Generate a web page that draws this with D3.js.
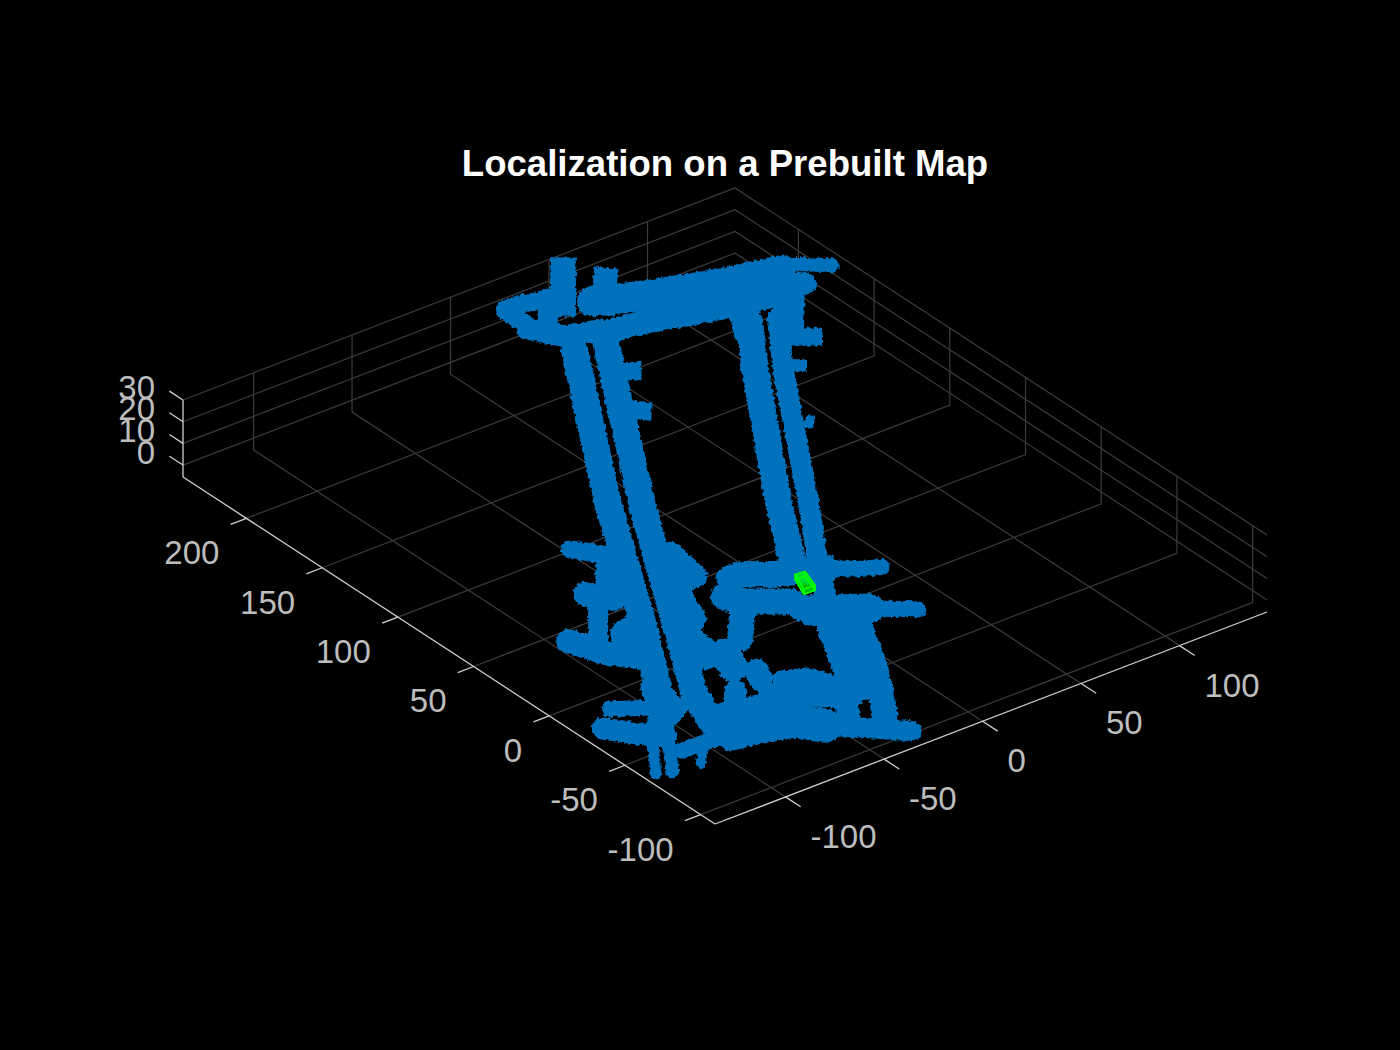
<!DOCTYPE html>
<html>
<head>
<meta charset="utf-8">
<script src="https://cdn.jsdelivr.net/npm/d3@7/dist/d3.min.js"></script>
<style>html,body{margin:0;background:#000}svg{display:block}</style>
</head>
<body>
<svg id="chart" width="1400" height="1050"></svg>
<script>
// ---- values: [x, y] in map units, map treated as flat at z = 0 ----
const xTicks = [-100, -50, 0, 50, 100];
const yTicks = [-100, -50, 0, 50, 100, 150, 200];
const zTicks = [0, 10, 20, 30];
const xLimits = [-135.8, 144.4];
const yLimits = [-109.5, 241.9];
const zLimits = [-5.5, 30];
const titleText = "Localization on a Prebuilt Map";

const laneLeftOuter = [[46.2,220.4],[-19.7,112],[-64.4,31.9],[-97.4,-23.8],[-114.6,-46.1]];
const laneLeftInner = [[58.9,215.8],[-8.8,103.8],[-83.4,-27.3],[-91.9,-48.2]];
const laneRightOuter = [[114.6,193.6],[93,161.5],[34.7,70],[12.9,33.4]];
const laneRightInner = [[126,190],[101.8,154.4],[44.3,62.7],[18.7,23.4],[2.2,-4.3]];
const laneRightTop = [[144.6,206],[124.9,180.8]];
const stubTopA = [[81,272.9],[64.7,251.8]];
const stubTopB = [[90,256.8],[77.6,242.1]];
const barTopLeftUpper = [[43.7,262.7],[50.9,262.2],[67.7,255.6]];
const barTopLeftLink = [[42.7,261.4],[42.7,248.4]];
const barTopLeftLower = [[41.2,244.6],[49.2,230.6],[63.3,225.9]];
const barTopLeftCross = [[62.4,258.6],[45.2,236.5]];
const bandUpper = [[75.1,246.1],[95.7,236.6],[125,226],[150.3,219.7]];
const bandUpperTip = [[153.7,224.1],[169.4,210.3]];
const bandLower = [[61.3,224],[82.9,219.8],[109.6,211.4],[134.3,205.8]];
const bandJoin = [[117.9,201.1],[109.7,187.3]];
const bandEast = [[141.6,215.2],[151.9,205.4]];
const spurLeftA = [[48,196],[53.8,191.7]];
const spurLeftB = [[33,169.6],[37.8,163.9]];
const spurRightA = [[121,175.1],[128.4,169.5]];
const spurRightB = [[106.7,156.8],[110.2,154.1]];
const spotEast = [[86.9,117.3],[84.4,115.2]];
const crossA = [[-16.9,35.8],[-11.2,35.9],[0,27.5],[19.1,18.1]];
const crossATip = [[19.1,18.1],[30.3,9.7],[37.5,5.8]];
const crossB = [[-6.5,-4.3],[13.3,-17.5]];
const crossBTip = [[13.3,-17.5],[28.5,-30]];
const crossC = [[-27.4,25.7],[-22.9,17.2],[-8.5,6.3],[-7.3,-6.6]];
const crossCStub = [[-27.3,13.5],[-42.7,-4.9]];
const corridorSouth = [[-2.3,-20.4],[-20.8,-57.1]];
const legWest = [[-36.1,-66.1],[-48.4,-83.9]];
const legEast = [[-22.4,-71.4],[-36.5,-92.8]];
const mainTip = [[-33.3,-106.2],[-48,-91.2],[-58.3,-81.4]];
const mainRoad = [[-58.3,-81.4],[-66,-70.5],[-83.3,-65.1],[-92.1,-63.5]];
const mainTail = [[-96.9,-62.9],[-116.6,-62.1]];
const mainUpper = [[-91.5,-50.4],[-66,-56.2]];
const branchA = [[-49.6,-40.4],[-39.4,-45],[-33.7,-59.3]];
const branchB = [[-61.1,-48.7],[-47.4,-57.2],[-35.4,-68.5]];
const barD = [[-130.8,-28.8],[-118.8,-44.8],[-114.5,-49.1]];
const barE = [[-118.9,-18.2],[-95,-33.9]];
const tailA = [[-119.7,-47.2],[-135.9,-70.6]];
const tailB = [[-117,-54.3],[-129.5,-73.4]];
const tailC = [[-105.8,-63.3],[-116.6,-75.1]];
const barF = [[-99,35.3],[-92.3,17.8],[-82.5,5.5]];
const barG = [[-53.5,93.5],[-44.6,80.8]];
const blockH = [[-46.9,73.8],[-61.7,54.9]];
const blobH = [[-70.4,61.4],[-68,54.7]];
const linkH = [[-73.5,48.8],[-88.3,29.4]];
const blobJ = [[-77.2,26],[-68.3,26.3]];
const blockK1 = [[-23.4,66],[-26.7,45.6]];
const blockK2 = [[-41.5,39.6],[-48.3,19.3]];
const linkK = [[-27.6,54.2],[-42.3,35.3]];
const blockK3 = [[-60.4,8.4],[-61.4,-6]];
const blockK4 = [[-55,-10.8],[-58.8,-20.9]];
const blockK5 = [[-53.3,-29.6],[-56,-35.6]];
const blockK6 = [[-69.9,-37.1],[-76.3,-45.3]];
const fillSouth = [[-94.1,-15.9],[-100.8,-33.5]];

const egoCornersX = [3.7, 8.4, 4.8, -0.8];
const egoCornersY = [19.2, 18.7, 7.4, 7.5];
const egoHeight = [0, 2.3];

// ---- drawing ----
const trackStyles = [
  [laneLeftOuter,27],[laneLeftInner,27],[laneRightOuter,27],[laneRightInner,21],[laneRightTop,30],
  [stubTopA,26,"square"],[stubTopB,24,"square"],[barTopLeftUpper,18],[barTopLeftLink,18],[barTopLeftLower,22],[barTopLeftCross,20],
  [bandUpper,30],[bandUpperTip,14],[bandLower,24],[bandJoin,30],[bandEast,22],
  [spurLeftA,18,"square"],[spurLeftB,18,"square"],[spurRightA,18,"square"],[spurRightB,13,"square"],[spotEast,10],
  [crossA,26],[crossATip,16],[crossB,30],[crossBTip,16],[crossC,26],[crossCStub,26],
  [corridorSouth,54],[legWest,24],[legEast,26],[mainTip,20],[mainRoad,34],[mainTail,16],[mainUpper,30],
  [branchA,16],[branchB,26],[barD,22],[barE,16],[tailA,11],[tailB,13],[tailC,10],
  [barF,24],[barG,18],[blockH,34],[blobH,24],[linkH,20],[blobJ,30],
  [blockK1,24],[blockK2,28],[linkK,26],[blockK3,32],[blockK4,30],[blockK5,24],[blockK6,22],[fillSouth,30]
];

const svg = d3.select("#chart");
svg.append("rect").attr("width",1400).attr("height",1050).attr("fill","#000");

const origin = [715, 824];
const xEdge = [552, -212], yEdge = [-532, -347], zEdge = [0, -77];
const xT = d3.scaleLinear().domain(xLimits).range([0,1]);
const yT = d3.scaleLinear().domain(yLimits).range([0,1]);
const zT = d3.scaleLinear().domain(zLimits).range([0,1]);
function project(x,y,z){
  const a=xT(x), b=yT(y), c=zT(z);
  return [origin[0]+a*xEdge[0]+b*yEdge[0]+c*zEdge[0],
          origin[1]+a*xEdge[1]+b*yEdge[1]+c*zEdge[1]];
}
const [xa,xb]=xLimits,[ya,yb]=yLimits,[za,zb]=zLimits;
const path3 = d3.line();
function poly(g,pts,color,w){
  return g.append("path").attr("d",path3(pts.map(p=>project(...p))))
    .attr("fill","none").attr("stroke",color).attr("stroke-width",w);
}

const defs = svg.append("defs");
const rough = defs.append("filter").attr("id","rough")
  .attr("x","-5%").attr("y","-5%").attr("width","110%").attr("height","110%");
rough.append("feTurbulence").attr("type","fractalNoise").attr("baseFrequency",0.28)
  .attr("numOctaves",2).attr("seed",4).attr("result","n");
rough.append("feDisplacementMap").attr("in","SourceGraphic").attr("in2","n")
  .attr("scale",5).attr("xChannelSelector","R").attr("yChannelSelector","G");

// grid
const grid = svg.append("g");
const gridColor = "#3c3c3c";
xTicks.forEach(x=>{
  poly(grid,[[x,ya,za],[x,yb,za],[x,yb,zb]],gridColor,1.2);
});
yTicks.forEach(y=>{
  poly(grid,[[xa,y,za],[xb,y,za],[xb,y,zb]],gridColor,1.2);
});
zTicks.forEach(z=>{
  poly(grid,[[xa,yb,z],[xb,yb,z],[xb,ya,z]],gridColor,1.2);
});

// axes
const axisColor = "#d0d0d0", labelColor = "#bdbdbd";
const axes = svg.append("g");
poly(axes,[[xa,ya,za],[xb,ya,za]],axisColor,1.3);
poly(axes,[[xa,ya,za],[xa,yb,za]],axisColor,1.3);
poly(axes,[[xa,yb,za],[xa,yb,zb]],axisColor,1.3);
xTicks.forEach(x=>poly(axes,[[x,ya,za],[x,ya-10,za]],axisColor,1.3));
yTicks.forEach(y=>poly(axes,[[xa,y,za],[xa-8,y,za]],axisColor,1.3));
zTicks.forEach(z=>poly(axes,[[xa,yb,z],[xa,yb+9,z]],axisColor,1.3));

const labels = svg.append("g").attr("font-family","'Liberation Sans',Arial,sans-serif")
  .attr("font-size",33).attr("fill",labelColor);
const fmt = d3.format("d");
xTicks.forEach(x=>{const p=project(x,ya,za);
  labels.append("text").attr("x",p[0]+25).attr("y",p[1]+51).attr("text-anchor","start").text(fmt(x).replace("−","-"));});
yTicks.forEach(y=>{const p=project(xa,y,za);
  labels.append("text").attr("x",p[0]-27).attr("y",p[1]+46).attr("text-anchor","end").text(fmt(y).replace("−","-"));});
zTicks.forEach(z=>{const p=project(xa,yb,z);
  labels.append("text").attr("x",p[0]-28).attr("y",p[1]-1.5).attr("text-anchor","end").text(fmt(z).replace("−","-"));});

// map
const map = svg.append("g").attr("filter","url(#rough)");
trackStyles.forEach(([track,w,cap])=>{
  map.append("path").attr("d",path3(track.map(d=>project(d[0],d[1],0))))
    .attr("fill","none").attr("stroke","#0072BD").attr("stroke-width",w)
    .attr("stroke-linecap",cap||"round").attr("stroke-linejoin","round");
});

// ego vehicle cuboid
const ego = svg.append("g");
const corner = (i,h)=>project(egoCornersX[i],egoCornersY[i],egoHeight[h]);
const faces = [
  [[0,0],[1,0],[2,0],[3,0]],
  [[0,1],[1,1],[2,1],[3,1]],
  [[0,0],[1,0],[1,1],[0,1]],
  [[1,0],[2,0],[2,1],[1,1]],
  [[2,0],[3,0],[3,1],[2,1]],
  [[3,0],[0,0],[0,1],[3,1]]
];
faces.forEach(f=>{
  ego.append("path").attr("d",path3(f.map(([i,h])=>corner(i,h)))+"Z")
    .attr("fill","#00ff00").attr("fill-opacity",0.5)
    .attr("stroke","#00ff00").attr("stroke-width",1.4).attr("stroke-linejoin","round");
});

svg.append("text").attr("x",725).attr("y",176).attr("text-anchor","middle")
  .attr("font-family","'Liberation Sans',Arial,sans-serif").attr("font-weight","bold")
  .attr("font-size",36.6).attr("fill","#fff").text(titleText);
</script>
</body>
</html>
